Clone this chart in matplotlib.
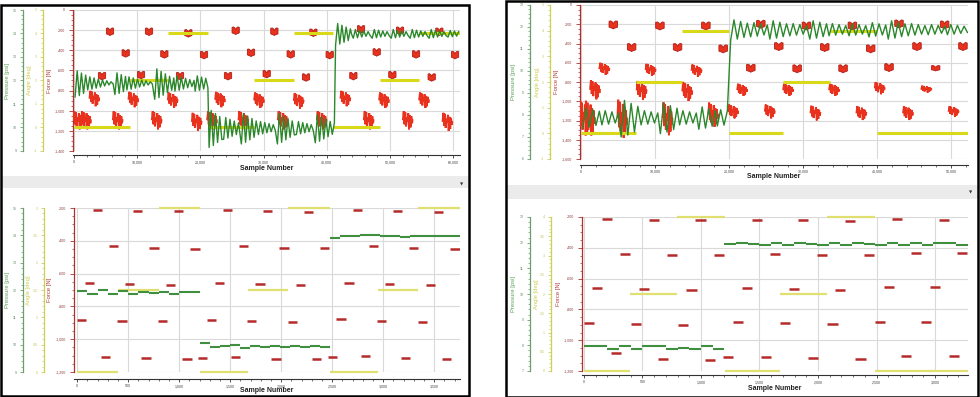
import numpy as np
import matplotlib
matplotlib.use("Agg")
import matplotlib.pyplot as plt
from matplotlib.ticker import MultipleLocator, AutoMinorLocator, FuncFormatter
from matplotlib.patches import Rectangle

plt.rcParams['font.family'] = ['Liberation Sans', 'DejaVu Sans']

W, H = 980, 397

# ======================= DATA =======================
# ---- Top-left overview (0 .. 61,000 samples) ----
tl_burst_x = [5694, 11863, 18084, 25571, 31687, 37856, 45395, 51564, 57785,
              8172, 14288, 20562, 27996, 34270, 40439, 47873, 54095, 60264,
              4429, 10597, 16766, 24358, 30474, 36696, 44183, 50351, 56573,
              3216, 9385, 15606, 23093, 29262, 35536, 42917, 49033, 55360,
              685, 1898, 6907, 13076, 19403, 21828, 26784, 33006, 39175, 46610, 52779, 59053]
tl_burst_f = [-216, -216, -232, -206, -216, -226, -192, -206, -216,
              -431, -441, -448, -425, -441, -448, -421, -441, -448,
              -657, -647, -657, -657, -637, -670, -657, -647, -670,
              -879, -889, -896, -889, -896, -902, -879, -896, -896,
              -1095, -1095, -1095, -1095, -1111, -1095, -1095, -1095, -1095, -1095, -1095, -1111]
tl_burst_h = [38] * 27 + [85] * 9 + [100] * 12
tl_burst_kind = ['c'] * 27 + ['s'] * 21

tl_p_start = [0, 21200, 41200]
tl_p_end = [21200, 41200, 61000]
tl_p_level = [11.9, 10.0, 14.0]
tl_ev_x = [0, 2000, 6300, 8200, 12600, 15800, 19000,
           21200, 23500, 26300, 29000, 32000, 35000, 38000,
           41200, 44000, 47000, 50000, 53000, 56000, 59000]
tl_ev_amp = [0.6, 0.3, 0.5, 0.3, 0.7, 0.35, 0.35,
             0.85, 0.5, 0.7, 0.3, 0.7, 0.3, 0.65,
             0.5, 0.2, 0.2, 0.2, 0.2, 0.2, 0.15]

tl_a_start = [0, 8800, 14900, 21200, 28500, 34800, 41000, 48400, 54600]
tl_a_end = [8800, 14900, 21200, 28500, 34800, 41000, 48400, 54600, 61000]
tl_a_val = [0, 2, 4, 0, 2, 4, 0, 2, 4]

# ---- Bottom-left zoom (0 .. 3,750 samples) ----
bl_red_x = [39, 118, 196, 278, 356, 438, 516, 591, 673, 752, 833, 912, 990, 1075, 1154,
            1229, 1314, 1392, 1474, 1549, 1631, 1709, 1791, 1866, 1948, 2026, 2108, 2190,
            2265, 2346, 2425, 2503, 2585, 2663, 2748, 2827, 2905, 2984, 3062, 3140, 3219,
            3297, 3386, 3461, 3539, 3621, 3703]
bl_red_f = [-880, -657, -212, -1108, -433, -888, -665, -218, -1116, -442, -892, -669, -220, -1120, -448,
            -1114, -882, -657, -212, -1108, -433, -890, -665, -218, -1118, -442, -894, -671,
            -222, -1122, -446, -1108, -876, -655, -212, -1104, -433, -888, -665, -218, -1116,
            -442, -894, -671, -225, -1122, -448]

bl_p_start = [0, 1200, 2480]
bl_p_end = [1200, 2480, 3752]
bl_p_steps = [
    [11.95, 11.87, 12.00, 11.87, 11.95, 11.87, 11.92, 11.89, 11.93, 11.86, 11.91, 11.94],
    [10.06, 9.91, 9.95, 9.99, 9.88, 9.95, 9.90, 9.95, 9.90, 9.96, 9.90, 9.95, 9.92],
    [13.90, 13.98, 13.99, 14.00, 14.00, 13.99, 13.99, 13.94, 13.98, 13.97, 13.98, 13.96, 13.97],
]

bl_a_start = [0, 400, 800, 1200, 1670, 2070, 2480, 2945, 3345]
bl_a_end = [400, 800, 1200, 1670, 2070, 2480, 2945, 3345, 3752]
bl_a_val = [0, 1.5, 3, 0, 1.5, 3, 0, 1.5, 3]

# ---- Top-right overview (0 .. 52,300 samples) ----
tr_burst_x = [4365, 10665, 16875, 24300, 30465, 36675, 42975, 49140,
              6840, 13050, 19215, 26730, 32940, 39150, 45405, 51615,
              3150, 9405, 15615, 22950, 29205, 35415, 41625, 47925,
              1890, 8190, 14355, 21780, 27990, 34200, 40365, 46665,
              450, 1215, 5580, 11700, 17865, 20565, 25515, 31680, 37890, 44190, 50355]
tr_burst_f = [-207, -218, -218, -200, -218, -218, -197, -207,
              -442, -442, -456, -432, -442, -456, -432, -432,
              -663, -674, -681, -657, -663, -663, -650, -657,
              -881, -888, -898, -881, -881, -881, -864, -874,
              -1175, -1175, -1182, -1182, -1140, -1106, -1106, -1123, -1123, -1123, -1106]
tr_burst_h = [42] * 8 + [42] * 8 + [70, 70, 70, 42, 42, 42, 42, 28] + \
             [110, 110, 110, 70, 70, 70, 70, 40] + \
             [200, 200, 220, 190, 140, 80, 80, 85, 80, 80, 60]
tr_burst_kind = ['c'] * 16 + ['s', 's', 's', 'c', 'c', 'c', 'c', 'c'] + ['s'] * 19

tr_p_start = [0, 20000]
tr_p_end = [20000, 52300]
tr_p_level = [7.9, 11.9]
tr_ev_x = [0, 2600, 5200, 7900, 10500, 13100, 15700, 18200,
           20000, 22700, 25300, 28000, 30700, 33300, 36000, 38700, 41300, 44000, 46700, 49300]
tr_ev_amp = [0.5, 0.35, 0.9, 0.35, 0.75, 0.35, 0.55, 0.4,
             0.5, 0.35, 0.45, 0.3, 0.45, 0.3, 0.3, 0.35, 0.45, 0.3, 0.25, 0.25]

tr_a_start = [0, 7500, 13700, 20000, 27300, 33600, 40000]
tr_a_end = [7500, 13700, 20000, 27300, 33600, 40000, 52300]
tr_a_val = [0, 2, 4, 0, 2, 4, 0]

# ---- Bottom-right zoom (0 .. 3,280 samples) ----
br_red_x = [40, 114, 199, 270, 350, 441, 515, 598, 672, 749, 843, 919, 996, 1076, 1156,
            1233, 1318, 1395, 1475, 1554, 1631, 1717, 1796, 1873, 1958, 2035, 2124, 2192,
            2272, 2363, 2437, 2528, 2605, 2676, 2756, 2835, 2921, 3003, 3074, 3160, 3234]
br_red_f = [-886, -659, -215, -1085, -438, -895, -670, -219, -1122, -445, -899, -672, -222, -1126, -449,
            -1109, -882, -659, -217, -1107, -438, -888, -665, -222, -1116, -445, -893, -672,
            -226, -1122, -449, -882, -655, -215, -1103, -432, -880, -655, -217, -1103, -434]

br_p_start = [0, 1200]
br_p_end = [1200, 3282]
br_p_steps = [
    [7.96, 7.96, 7.86, 7.96, 7.87, 7.96, 7.96, 7.87, 7.91, 7.86, 7.98, 7.87],
    [11.95, 11.99, 11.94, 11.90, 12.00, 11.91, 11.99, 11.94, 11.90, 11.99, 11.91,
     11.99, 11.95, 11.90, 11.99, 11.91, 12.00, 11.92, 12.00, 11.97, 11.91],
]

br_a_start = [0, 396, 797, 1204, 1674, 2078, 2485]
br_a_end = [396, 797, 1204, 1674, 2078, 2485, 3282]
br_a_val = [0, 2, 4, 0, 2, 4, 0]

CUP_DX = [-0.5, -0.3, -0.12, 0.0, 0.12, 0.3, 0.5, 0.5, 0.3, 0.1, 0.0, -0.1, -0.3, -0.5]
CUP_DY = [0.9, 1.0, 0.75, 0.3, 0.75, 1.0, 0.9, -0.55, -0.7, -0.85, -1.0, -0.85, -0.7, -0.55]
SPIKE_DX = [-0.5, -0.42, -0.34, -0.26, -0.18, -0.1, -0.02, 0.06, 0.14, 0.22, 0.3, 0.38, 0.46, 0.5]
SPIKE_DY = [0.1, 0.9, -0.4, 0.8, -0.6, 0.3, -0.1, 0.7, -0.9, 0.5, -0.7, 0.4, -0.3, 0.0]
RING = [-1.0, 0.85, -0.9, 0.7, -0.75, 0.55, -0.6, 0.4, -0.45, 0.3, -0.3, 0.15, -0.15]
JIT = [0.0, 0.06, -0.05, 0.04, -0.07, 0.05, -0.03, 0.07, -0.06, 0.02, -0.04, 0.05]

# ======================= STYLE =======================
RED = '#e8321e'
RED_DK = '#b01c14'
RED_SEG = '#b52a2a'
GREEN = '#2b872b'
GREEN_SEG = '#3f8f3f'
YEL = '#d9d91a'
YEL_SEG = '#e0e070'
C_P = '#6b9e6b'
C_A = '#cfcf55'
C_F = '#b03030'
GRID = '#d9d9d9'

fig = plt.figure(figsize=(W / 100, H / 100), dpi=100)
fig.patch.set_facecolor('white')


def fx(px):
    return px / W


def fy(py):
    return 1 - py / H


def thousands(v, pos):
    return f"{v:,.0f}"


def plain(v, pos):
    return f"{v:g}"


def make_panel(l, t, r, b, xlim, flim, plim, alim, xstep, astep, p_sp, a_sp,
               lab_x, sample_y, out):
    ax = fig.add_axes([fx(l), fy(b), fx(r - l), (b - t) / H])
    ax.set_xlim(*xlim)
    ax.set_ylim(*flim)
    ax.set_facecolor('white')
    for s in ['top', 'right']:
        ax.spines[s].set_visible(False)
    ax.spines['left'].set_color(C_F)
    ax.spines['left'].set_linewidth(0.9)
    ax.spines['bottom'].set_color('#333333')
    ax.spines['bottom'].set_linewidth(0.8)
    ax.spines['bottom'].set_position(('outward', out))
    ax.xaxis.set_major_locator(MultipleLocator(xstep))
    ax.xaxis.set_minor_locator(AutoMinorLocator(5))
    ax.xaxis.set_major_formatter(FuncFormatter(thousands))
    ax.yaxis.set_major_locator(MultipleLocator(200))
    ax.yaxis.set_minor_locator(AutoMinorLocator(4))
    ax.yaxis.set_major_formatter(FuncFormatter(thousands))
    ax.tick_params(axis='x', which='major', length=2.5, width=0.6, labelsize=2.6,
                   pad=1.2, colors='#333333', labelcolor='#444444')
    ax.tick_params(axis='x', which='minor', length=1.5, width=0.5, colors='#333333')
    ax.tick_params(axis='y', which='major', length=3, width=0.6, labelsize=2.6,
                   pad=3, colors=C_F, labelcolor='#8a3a3a')
    ax.tick_params(axis='y', which='minor', length=1.6, width=0.5, colors=C_F)
    ax.grid(True, which='major', color=GRID, lw=0.8)
    ax.set_axisbelow(True)

    twins = []
    for lim, sp, col, lcol, step in [(alim, a_sp, C_A, '#c4c45a', astep),
                                     (plim, p_sp, C_P, '#5e8e5e', 1)]:
        tw = ax.twinx()
        tw.set_ylim(*lim)
        for s in ['top', 'right', 'bottom']:
            tw.spines[s].set_visible(False)
        tw.spines['left'].set_visible(True)
        tw.spines['left'].set_position(('axes', (sp - l) / (r - l)))
        tw.spines['left'].set_color(col)
        tw.spines['left'].set_linewidth(0.9)
        tw.yaxis.set_ticks_position('left')
        tw.yaxis.set_major_locator(MultipleLocator(step))
        tw.yaxis.set_minor_locator(AutoMinorLocator(5))
        tw.yaxis.set_major_formatter(FuncFormatter(plain))
        tw.tick_params(axis='y', which='major', length=2.5, width=0.6, labelsize=2.6,
                       pad=2, colors=col, labelcolor=lcol)
        tw.tick_params(axis='y', which='minor', length=1.4, width=0.5, colors=col)
        twins.append(tw)
    axa, axp = twins

    cy = fy((t + b) / 2)
    fig.text(fx(lab_x[0]), cy, 'Pressure [psi]', rotation=90, ha='center', va='center',
             fontsize=4.2, color='#58a058')
    fig.text(fx(lab_x[1]), cy, 'Angle [deg]', rotation=90, ha='center', va='center',
             fontsize=4.2, color='#cccc55')
    fig.text(fx(lab_x[2]), cy, 'Force [N]', rotation=90, ha='center', va='center',
             fontsize=4.2, color='#b33c3c')
    fig.text(fx((l + r) / 2), fy(sample_y), 'Sample Number', ha='center', va='center',
             fontsize=5, fontweight='bold', color='#222222')
    return ax, axa, axp


def draw_bursts(ax, xs, fs, hs, kinds, wc, ws):
    for x, f, h, k in zip(xs, fs, hs, kinds):
        if k == 'c':
            ax.fill([x + d * wc for d in CUP_DX], [f + d * h for d in CUP_DY],
                    fc=RED, ec=RED_DK, lw=0.6, zorder=3)
        else:
            ax.plot([x + d * ws for d in SPIKE_DX], [f + d * h for d in SPIKE_DY],
                    color=RED, lw=1.4, zorder=3, solid_joinstyle='miter')


def build_green(starts, ends, levels, ev_x, ev_amp, step, rs):
    X, Y = [], []
    for s, e, lev in zip(starts, ends, levels):
        evs = sorted([(a, b) for a, b in zip(ev_x, ev_amp) if s <= a < e])
        knots, windows = [], []
        for i, (ex, ea) in enumerate(evs):
            stop = evs[i + 1][0] if i + 1 < len(evs) else e
            k = 0
            while k < len(RING) and ex + (k + 0.5) * rs < stop:
                knots.append((ex + (k + 0.5) * rs, lev + ea * RING[k]))
                k += 1
            windows.append((ex, ex + k * rs))
        pts = []
        for i, x in enumerate(np.arange(s, e, step)):
            if not any(a <= x < bb for a, bb in windows):
                pts.append((x, lev + JIT[i % len(JIT)]))
        pts += knots
        pts.sort()
        X += [p[0] for p in pts]
        Y += [p[1] for p in pts]
    return X, Y


# ======================= FRAMES =======================
fig.add_artist(Rectangle((fx(1), fy(396)), fx(468), 391 / H, transform=fig.transFigure,
                         fill=False, ec='black', lw=1.8, zorder=10))
fig.add_artist(Rectangle((fx(506), fy(396.5)), fx(472), 396 / H, transform=fig.transFigure,
                         fill=False, ec='black', lw=1.8, zorder=10))
fig.add_artist(Rectangle((fx(2), fy(188)), fx(466), 12 / H, transform=fig.transFigure,
                         fc='#ebebeb', ec='none', zorder=0))
fig.add_artist(Rectangle((fx(507), fy(199)), fx(470), 14 / H, transform=fig.transFigure,
                         fc='#ebebeb', ec='none', zorder=0))
fig.text(fx(462), fy(185), '\u25BC', fontsize=3, ha='center', va='center', color='#333333',
         family='DejaVu Sans')
fig.text(fx(971), fy(193), '\u25BC', fontsize=3, ha='center', va='center', color='#333333',
         family='DejaVu Sans')

# ======================= TOP LEFT =======================
ax, axa, axp = make_panel(73, 10, 460, 151, (-160, 61050), (-1400, 0), (9, 15), (-1, 5),
                          10000, 1, 23, 43, (7, 29, 49), 169, 3)
draw_bursts(ax, tl_burst_x, tl_burst_f, tl_burst_h, tl_burst_kind, 1150, 1500)
axa.hlines(tl_a_val, tl_a_start, tl_a_end, color=YEL, lw=2.2)
gx, gy = build_green(tl_p_start, tl_p_end, tl_p_level, tl_ev_x, tl_ev_amp, 150, 335)
axp.plot(gx, gy, color=GREEN, lw=1.0)

# ======================= BOTTOM LEFT =======================
ax, axa, axp = make_panel(74, 208, 460, 372, (-32, 3752), (-1200, -200), (9, 15), (0, 3),
                          500, 0.5, 23, 44, (7, 28, 49), 390, 5)
ax.hlines(bl_red_f, [x - 45 for x in bl_red_x], [x + 45 for x in bl_red_x],
          color=RED_SEG, lw=1.8, zorder=3)
axa.hlines(bl_a_val, bl_a_start, bl_a_end, color=YEL_SEG, lw=1.6, clip_on=False)
for s, e, vals in zip(bl_p_start, bl_p_end, bl_p_steps):
    edges = np.linspace(s, e, len(vals) + 1)
    axp.hlines(vals, edges[:-1], edges[1:], color=GREEN_SEG, lw=1.5)

# ======================= TOP RIGHT =======================
ax, axa, axp = make_panel(580, 5, 968, 159, (-135, 52300), (-1600, 0), (6, 13), (-1, 5),
                          10000, 1, 530, 550, (514, 537, 556), 177, 4)
draw_bursts(ax, tr_burst_x, tr_burst_f, tr_burst_h, tr_burst_kind, 1150, 1300)
axa.hlines(tr_a_val, tr_a_start, tr_a_end, color=YEL, lw=2.2)
gx, gy = build_green(tr_p_start, tr_p_end, tr_p_level, tr_ev_x, tr_ev_amp, 130, 450)
axp.plot(gx, gy, color=GREEN, lw=1.0)

# ======================= BOTTOM RIGHT =======================
ax, axa, axp = make_panel(582, 217, 968, 371, (-17, 3282), (-1200, -200), (7, 13), (0, 4),
                          500, 0.5, 530, 551, (514, 536, 558), 389, 3)
ax.hlines(br_red_f, [x - 43 for x in br_red_x], [x + 43 for x in br_red_x],
          color=RED_SEG, lw=1.8, zorder=3)
axa.hlines(br_a_val, br_a_start, br_a_end, color=YEL_SEG, lw=1.6, clip_on=False)
for s, e, vals in zip(br_p_start, br_p_end, br_p_steps):
    edges = np.linspace(s, e, len(vals) + 1)
    axp.hlines(vals, edges[:-1], edges[1:], color=GREEN_SEG, lw=1.5)

fig.savefig('out.png', dpi=100, facecolor='white')
